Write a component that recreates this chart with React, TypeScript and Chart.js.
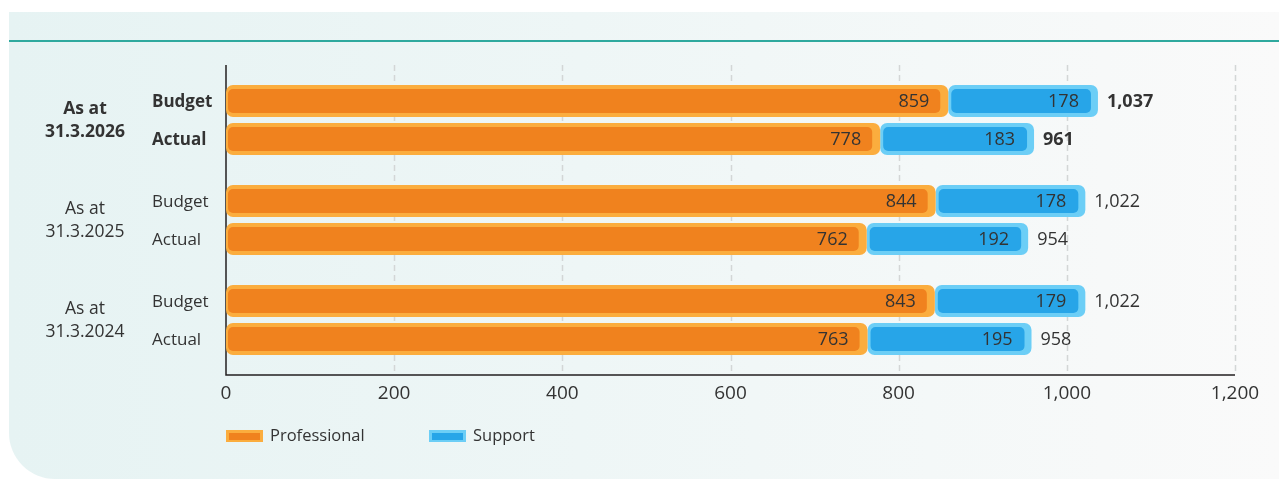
import React, { useEffect, useRef } from 'react';
import { Chart, registerables } from 'chart.js';

Chart.register(...registerables);

// ---- data ----
const periodPrefix = 'As at';
const periods = ['31.3.2026', '31.3.2025', '31.3.2024'];
const rowLabels = ['Budget', 'Actual'];
const seriesNames = ['Professional', 'Support'];
const budgetProfessional = [859, 844, 843];
const budgetSupport = [178, 178, 179];
const actualProfessional = [778, 762, 763];
const actualSupport = [183, 192, 195];
const xTicks = [0, 200, 400, 600, 800, 1000, 1200];

// ---- style ----
const ORANGE_DARK = '#F0821E';
const ORANGE_LIGHT = '#FBAD3E';
const BLUE_DARK = '#27A5E8';
const BLUE_LIGHT = '#6CCEF6';
const TEXT = '#333333';
const FONT = '"Open Sans", "Noto Sans", sans-serif';

const radius = { topLeft: 7, topRight: 7, bottomLeft: 7, bottomRight: 7 };

const fmt = (v: number) => v.toLocaleString('en-US');

const decorPlugin = {
  id: 'decor',
  beforeDatasetsDraw(chart: any) {
    const { ctx, chartArea, scales } = chart;
    const { left, top, bottom } = chartArea;
    const x = scales.x;
    ctx.save();
    // dashed grid lines
    ctx.strokeStyle = '#d3d6d6';
    ctx.lineWidth = 1.5;
    ctx.setLineDash([6, 4]);
    for (const v of xTicks) {
      if (v === 0) continue;
      const px = Math.round(x.getPixelForValue(v)) + 0.5;
      ctx.beginPath();
      ctx.moveTo(px, top - 5);
      ctx.lineTo(px, bottom + 5);
      ctx.stroke();
    }
    ctx.setLineDash([]);
    // axes
    ctx.strokeStyle = '#231f20';
    ctx.lineWidth = 1.5;
    ctx.beginPath();
    ctx.moveTo(left, top - 5);
    ctx.lineTo(left, bottom + 5);
    ctx.lineTo(x.getPixelForValue(xTicks[xTicks.length - 1]), bottom + 5);
    ctx.stroke();
    // tick labels
    ctx.fillStyle = TEXT;
    ctx.font = `19px ${FONT}`;
    ctx.textAlign = 'center';
    ctx.textBaseline = 'middle';
    for (const v of xTicks) {
      ctx.fillText(fmt(v), x.getPixelForValue(v), bottom + 24);
    }
    ctx.restore();
  },
  afterDatasetsDraw(chart: any) {
    const { ctx, scales } = chart;
    const y = scales.y;
    ctx.save();
    // inner darker bars
    chart.data.datasets.forEach((ds: any, di: number) => {
      const meta = chart.getDatasetMeta(di);
      const isProf = ds.label === seriesNames[0];
      meta.data.forEach((el: any) => {
        const p = el.getProps(['x', 'y', 'base', 'height'], true);
        const l = Math.min(p.x, p.base);
        const r = Math.max(p.x, p.base);
        const t = p.y - p.height / 2;
        const insetL = isProf ? 2 : 3;
        const insetR = isProf ? 8 : 7;
        ctx.fillStyle = isProf ? ORANGE_DARK : BLUE_DARK;
        ctx.beginPath();
        (ctx as any).roundRect(l + insetL, t + 4, r - l - insetL - insetR, p.height - 8, 5);
        ctx.fill();
      });
    });
    // value labels inside bars, totals and row labels
    chart.data.datasets.forEach((ds: any, di: number) => {
      const meta = chart.getDatasetMeta(di);
      const isProf = ds.label === seriesNames[0];
      meta.data.forEach((el: any, j: number) => {
        const p = el.getProps(['x', 'y', 'base'], true);
        ctx.fillStyle = TEXT;
        ctx.textBaseline = 'middle';
        ctx.font = `18px ${FONT}`;
        ctx.textAlign = 'right';
        ctx.fillText(fmt(ds.data[j]), p.x - 19, p.y + 1);
        if (!isProf) {
          const total = chart.data.datasets
            .filter((d: any) => d.stack === ds.stack)
            .reduce((s: number, d: any) => s + d.data[j], 0);
          ctx.textAlign = 'left';
          ctx.font = `${j === 0 ? '700 ' : ''}18px ${FONT}`;
          ctx.fillText(fmt(total), p.x + 9, p.y + 1);
        } else {
          ctx.textAlign = 'left';
          ctx.font = `${j === 0 ? '700 ' : ''}17px ${FONT}`;
          ctx.fillText(ds.stack, 152, p.y + 1);
        }
      });
    });
    // group labels
    periods.forEach((per, j) => {
      const cy = y.getPixelForValue(j);
      ctx.fillStyle = TEXT;
      ctx.textAlign = 'center';
      ctx.textBaseline = 'middle';
      ctx.font = `${j === 0 ? '700 ' : ''}17.5px ${FONT}`;
      ctx.fillText(periodPrefix, 85, cy - 11);
      ctx.fillText(per, 85, cy + 12);
    });
    // legend
    const legendItems = [
      { name: seriesNames[0], light: ORANGE_LIGHT, dark: ORANGE_DARK, x: 226 },
      { name: seriesNames[1], light: BLUE_LIGHT, dark: BLUE_DARK, x: 429 },
    ];
    legendItems.forEach((it) => {
      ctx.fillStyle = it.light;
      ctx.fillRect(it.x, 430, 37, 12);
      ctx.fillStyle = it.dark;
      ctx.fillRect(it.x + 3, 433, 31, 7);
      ctx.fillStyle = TEXT;
      ctx.textAlign = 'left';
      ctx.textBaseline = 'middle';
      ctx.font = `16.5px ${FONT}`;
      ctx.fillText(it.name, it.x + 44, 436);
    });
    ctx.restore();
  },
};

export default function App() {
  const canvasRef = useRef<HTMLCanvasElement | null>(null);

  useEffect(() => {
    document.body.style.margin = '0';
    const canvas = canvasRef.current;
    if (!canvas) return;
    const common = {
      borderRadius: radius,
      borderSkipped: false,
      borderWidth: 0,
      categoryPercentage: 0.76,
      barPercentage: 32 / 38,
    };
    const chart = new Chart(canvas, {
      type: 'bar',
      data: {
        labels: periods,
        datasets: [
          { label: seriesNames[0], data: budgetProfessional, stack: rowLabels[0], backgroundColor: ORANGE_LIGHT, ...common },
          { label: seriesNames[1], data: budgetSupport, stack: rowLabels[0], backgroundColor: BLUE_LIGHT, ...common },
          { label: seriesNames[0], data: actualProfessional, stack: rowLabels[1], backgroundColor: ORANGE_LIGHT, ...common },
          { label: seriesNames[1], data: actualSupport, stack: rowLabels[1], backgroundColor: BLUE_LIGHT, ...common },
        ] as any,
      },
      options: {
        indexAxis: 'y',
        responsive: false,
        animation: false,
        layout: { padding: { left: 226, right: 44, top: 70, bottom: 109 } },
        scales: {
          x: { display: false, stacked: true, min: 0, max: 1200 },
          y: { display: false, stacked: true },
        },
        plugins: {
          legend: { display: false },
          tooltip: { enabled: false },
        },
      } as any,
      plugins: [decorPlugin],
    });
    return () => chart.destroy();
  }, []);

  return (
    <div style={{ position: 'absolute', left: 0, top: 0, width: 1279, height: 479, background: '#ffffff', overflow: 'hidden' }}>
      <div
        style={{
          position: 'absolute',
          left: 9,
          top: 12,
          right: 0,
          bottom: 0,
          background: 'linear-gradient(90deg, #e6f3f3 0%, #eef6f6 45%, #fafafa 100%)',
          borderBottomLeftRadius: 46,
        }}
      />
      <div style={{ position: 'absolute', left: 9, right: 0, top: 40, height: 1.5, background: '#2fa99e' }} />
      <canvas ref={canvasRef} width={1279} height={479} style={{ position: 'absolute', left: 0, top: 0 }} />
    </div>
  );
}
